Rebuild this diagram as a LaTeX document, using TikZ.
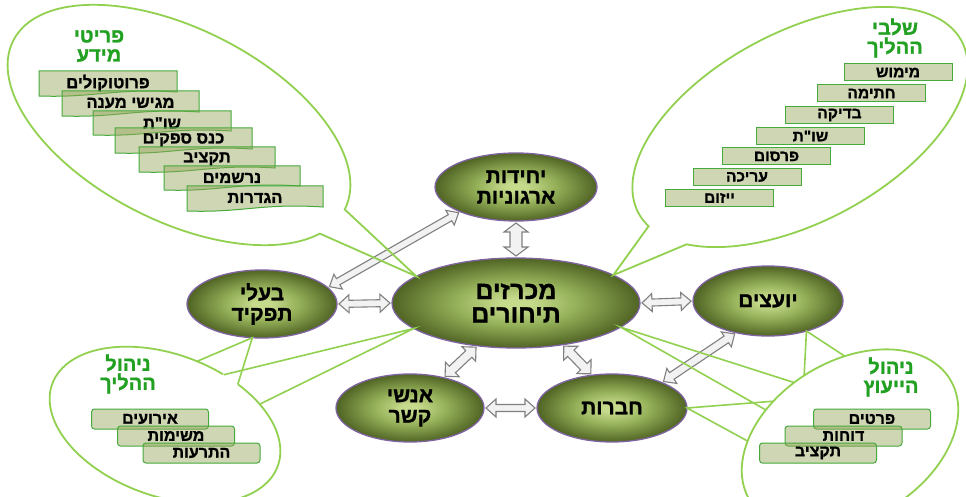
\documentclass[tikz,border=0pt]{standalone}
\usepackage{fontspec}
\usetikzlibrary{calc,shapes.geometric}
\newfontfamily\heb[Script=Hebrew,BoldFont={Liberation Sans Bold},BoldFeatures={FakeBold=1.2}]{Liberation Sans}
\TeXXeTstate=1
\newcommand\R[1]{\beginR #1\endR}
\definecolor{bubgreen}{RGB}{146,208,80}
\definecolor{headgreen}{RGB}{34,160,34}
\definecolor{boxedge}{RGB}{70,170,60}
\definecolor{boxfill}{RGB}{150,165,90}
\definecolor{olvlight}{RGB}{198,218,140}
\definecolor{olvmid}{RGB}{150,178,90}
\definecolor{olvdark}{RGB}{80,100,36}
\definecolor{nodeedge}{RGB}{128,100,162}
\definecolor{arrline}{RGB}{128,128,128}
\definecolor{arrfill}{RGB}{242,242,242}
\pgfdeclareradialshading{olvshade}{\pgfpoint{0bp}{0bp}}{color(0bp)=(olvlight); color(3bp)=(olvlight); color(12bp)=(olvmid); color(25bp)=(olvdark); color(50bp)=(olvdark)}
\tikzset{
  bignode/.style={ellipse, draw=nodeedge, line width=1.3pt, shade, shading=olvshade, inner sep=0pt, outer sep=0pt, align=center, text=black, font=\heb\bfseries\fontsize{21}{20.5}\selectfont},
  bub/.style={draw=bubgreen, line width=1.8pt},
  tailline/.style={draw=bubgreen, line width=1.6pt},
  dblarr/.style={draw=arrline, fill=arrfill, line width=1.1pt, line join=miter},
  heading/.style={text=headgreen, align=center, font=\heb\bfseries\fontsize{20}{19}\selectfont, inner sep=0pt},
  listbox/.style={draw=boxedge, line width=1pt, fill=boxfill, fill opacity=0.45, text opacity=1, inner sep=0pt, font=\heb\bfseries\fontsize{15.5}{16}\selectfont},
  boxtext/.style={inner sep=0pt, font=\heb\bfseries\fontsize{16.5}{17}\selectfont},
  rbox/.style={listbox, rounded corners=3pt, minimum width=117pt, minimum height=20pt, font=\heb\bfseries\fontsize{16}{17}\selectfont},
  trbox/.style={listbox, minimum width=108pt, minimum height=17pt},
}
% double arrow: shaft half width, head half width, head length, from, to
\newcommand\dblarrow[5]{%
  \coordinate (dA) at ($(#4)!2pt!(#5)$);
  \coordinate (dB) at ($(#5)!2pt!(#4)$);
  \coordinate (dAh) at ($(dA)!#3!(dB)$);
  \coordinate (dBh) at ($(dB)!#3!(dA)$);
  \draw[dblarr] (dA) -- ($(dAh)!#2!90:(dB)$) -- ($(dAh)!#1!90:(dB)$) -- ($(dBh)!#1!-90:(dA)$) -- ($(dBh)!#2!-90:(dA)$) -- (dB) -- ($(dBh)!#2!90:(dA)$) -- ($(dBh)!#1!90:(dA)$) -- ($(dAh)!#1!-90:(dB)$) -- ($(dAh)!#2!-90:(dB)$) -- cycle;
}
% document-shaped box: name, x1, y1, x2, y2, text (screen coordinates)
\newcommand\docbox[6]{%
  \path[listbox] (#2,-#3) -- (#4,-#3) -- (#4,{-(#5-4)}) .. controls ({#4-0.45*(#4-#2)},{-(#5-8)}) and ({#2+0.4*(#4-#2)},{-(#5+2)}) .. (#2,-#5) -- cycle;
  \node[boxtext] (#1) at ({(#2+#4)/2},{-(#3+12)}) {#6};
}
\begin{document}
\begin{tikzpicture}[x=1pt,y=1pt]
\useasboundingbox (0,0) rectangle (966,-497);
\clip (0,0) rectangle (966,-497);
\fill[white] (0,0) rectangle (966,-497);

% main nodes
\node[bignode, minimum width=248pt, minimum height=90pt, font=\heb\bfseries\fontsize{25}{23.5}\selectfont] (mc) at (516,-303) {\R{מכרזים}\\\R{תיחורים}};
\node[bignode, minimum width=162pt, minimum height=68pt] (yh) at (516,-187) {\R{יחידות}\\\R{ארגוניות}};
\node[bignode, minimum width=150pt, minimum height=68pt] (bt) at (262,-304) {\R{בעלי}\\\R{תפקיד}};
\node[bignode, minimum width=150pt, minimum height=70pt] (yo) at (768,-301) {\R{יועצים}};
\node[bignode, minimum width=148pt, minimum height=68pt] (ak) at (410,-408) {\R{אנשי}\\\R{קשר}};
\node[bignode, minimum width=150pt, minimum height=68pt] (hv) at (612,-408) {\R{חברות}};

% double arrows
\dblarrow{6pt}{12pt}{9pt}{yh.-90}{mc.90}
\dblarrow{3.5pt}{9pt}{10pt}{bt.0}{mc.180}
\dblarrow{3.5pt}{9pt}{10pt}{mc.0}{yo.180}
\dblarrow{3.5pt}{8.5pt}{10pt}{bt.14}{yh.204}
\dblarrow{4.5pt}{10pt}{10pt}{mc.228}{ak.42}
\dblarrow{4.5pt}{10pt}{10pt}{mc.-42}{hv.121}
\dblarrow{3.5pt}{9pt}{10pt}{ak.0}{hv.180}
\dblarrow{4pt}{9pt}{10pt}{yo.225}{hv.27}

% top-left bubble
\begin{scope}[shift={(179,-125)}, rotate=-27]
  \draw[bub] (0:186pt and 96pt) arc[start angle=0, end angle=340, x radius=186pt, y radius=96pt] -- (mc.165) -- cycle;
\end{scope}
% top-right bubble
\begin{scope}[shift={(800,-127)}, rotate=28]
  \draw[bub] (212:183pt and 95pt) arc[start angle=212, end angle=550, x radius=183pt, y radius=95pt] -- (mc.16) -- cycle;
\end{scope}
% bottom-left bubble
\begin{scope}[shift={(165,-425)}, rotate=-20]
  \draw[bub] (72:120pt and 71pt) arc[start angle=72, end angle=423, x radius=120pt, y radius=71pt];
  \coordinate (bl1) at (86:120pt and 71pt);
  \coordinate (bl2) at (63:120pt and 71pt);
  \coordinate (bl3) at (71.5:120pt and 71pt);
  \coordinate (bl4) at (47:120pt and 71pt);
\end{scope}
\draw[tailline] (bl1) -- (bt.254) -- (bl2);
\draw[tailline] (bl3) -- (mc.194) -- (bl4);
% bottom-right bubble
\begin{scope}[shift={(850,-440)}, rotate=31]
  \draw[bub] (0,0) ellipse [x radius=117pt, y radius=79pt];
  \coordinate (br1) at (70.7:117pt and 79pt);
  \coordinate (br2) at (93:117pt and 79pt);
  \coordinate (br3) at (99:117pt and 79pt);
  \coordinate (br4) at (119:117pt and 79pt);
  \coordinate (br5) at (113:117pt and 79pt);
  \coordinate (br6) at (139:117pt and 79pt);
\end{scope}
\draw[tailline] (br1) -- (yo.-38) -- (br2);
\draw[tailline] (br3) -- (mc.-13) -- (br4);
\draw[tailline] (br5) -- (hv.0) -- (br6);

% headings
\node[heading] (h1) at (99,-46) {\R{פריטי}\\\R{מידע}};
\node[heading] (h2) at (895,-38) {\R{שלבי}\\\R{ההליך}};
\node[heading] (h3) at (128,-374) {\R{ניהול}\\\R{ההליך}};
\node[heading] (h4) at (891,-377) {\R{ניהול}\\\R{הייעוץ}};

% top-left list
\docbox{p1}{39}{71}{177}{96}{\beginR פרוטוקולים\endR}
\docbox{p2}{62}{91}{199}{116}{\beginR מגישי מענה\endR}
\docbox{p3}{93}{111}{231}{135}{\beginR שו"ת\endR}
\docbox{p4}{115}{128}{252}{153}{\beginR כנס ספקים\endR}
\docbox{p5}{139}{147}{275}{172}{\beginR תקציב\endR}
\docbox{p6}{164}{166}{300}{190}{\beginR נרשמים\endR}
\docbox{p7}{187}{186}{323}{211}{\beginR הגדרות\endR}

% top-right list
\node[trbox] (s1) at (898,-72.5) {\R{מימוש}};
\node[trbox] (s2) at (871.5,-93.5) {\R{חתימה}};
\node[trbox] (s3) at (839.5,-115) {\R{בדיקה}};
\node[trbox] (s4) at (810.5,-136) {\R{שו"ת}};
\node[trbox] (s5) at (776.5,-156.5) {\R{פרסום}};
\node[trbox] (s6) at (747,-177) {\R{עריכה}};
\node[trbox] (s7) at (719.5,-198) {\R{ייזום}};

% bottom-left list
\node[rbox] (n1) at (150,-419) {\R{אירועים}};
\node[rbox] (n2) at (176,-436) {\R{משימות}};
\node[rbox] (n3) at (201.5,-453) {\R{התרעות}};

% bottom-right list
\node[rbox] (c1) at (872,-419) {\R{פרטים}};
\node[rbox] (c2) at (843.5,-436) {\R{דוחות}};
\node[rbox] (c3) at (818,-453) {\R{תקציב}};
\end{tikzpicture}
\end{document}
